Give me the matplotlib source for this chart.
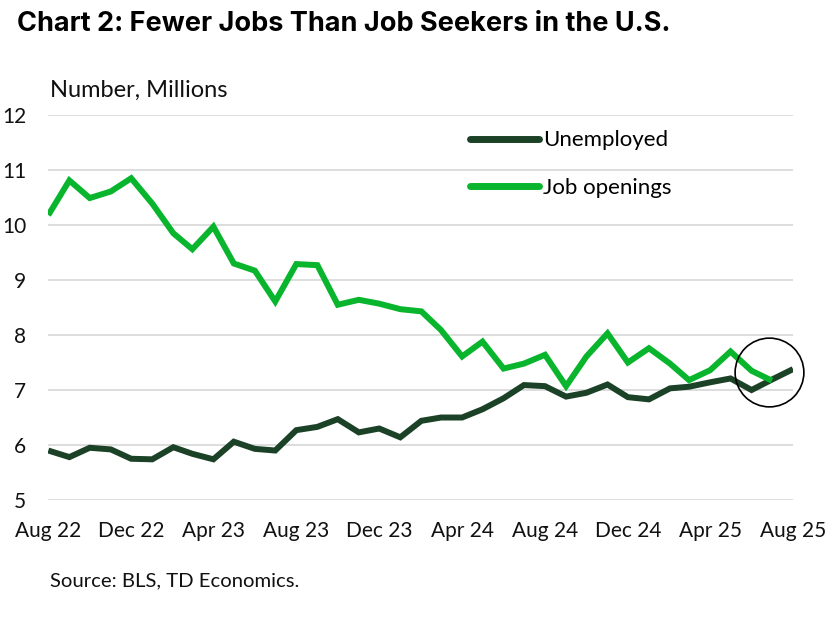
import matplotlib.pyplot as plt
import matplotlib.dates as mdates
import pandas as pd

plt.rcParams['font.family'] = ['Lato', 'DejaVu Sans']

# data (millions), monthly Aug 2022 - Aug 2025
months = pd.date_range('2022-08-01', periods=37, freq='MS')
unemployed = [5.90, 5.78, 5.95, 5.92, 5.75, 5.74, 5.96, 5.84, 5.74, 6.06,
              5.93, 5.90, 6.27, 6.33, 6.47, 6.23, 6.30, 6.14, 6.44, 6.50,
              6.50, 6.65, 6.85, 7.09, 7.07, 6.88, 6.95, 7.10, 6.87, 6.83,
              7.03, 7.06, 7.14, 7.21, 7.00, 7.19, 7.38]
job_openings = [10.18, 10.81, 10.49, 10.61, 10.85, 10.39, 9.85, 9.56, 9.97, 9.30,
                9.17, 8.61, 9.29, 9.27, 8.55, 8.64, 8.57, 8.47, 8.43, 8.09,
                7.61, 7.88, 7.39, 7.48, 7.64, 7.07, 7.61, 8.03, 7.50, 7.76,
                7.48, 7.18, 7.36, 7.70, 7.35, 7.17]
yticks = [5, 6, 7, 8, 9, 10, 11, 12]

colors = {
    'dark': '#1b4226',
    'green': '#08b52d',
    'grid': '#dadada',
    'text': '#111111',
}

fig = plt.figure(figsize=(8.27, 6.17), dpi=100)
ax = fig.add_axes([0.0584, 0.1896, 0.9005, 0.624])

ax.plot(months, unemployed, color=colors['dark'], lw=4.3, label='Unemployed',
        solid_capstyle='butt', solid_joinstyle='miter', zorder=3)
ax.plot(months[:len(job_openings)], job_openings, color=colors['green'], lw=4.3,
        label='Job openings', solid_capstyle='butt', solid_joinstyle='miter', zorder=3)

# circle around the latest crossover
cx = mdates.date2num(pd.Timestamp('2025-06-26'))
ax.plot([cx], [7.33], marker='o', ms=49.5, mfc='none', mec='black', mew=1.2,
        zorder=4, clip_on=False)

ax.set_xlim(months[0], months[-1])
ax.set_ylim(5, 12)
ax.set_yticks(yticks)
ax.set_xticks(months[::4])
ax.xaxis.set_major_formatter(mdates.DateFormatter('%b %y'))
ax.grid(axis='y', color=colors['grid'], lw=1.3)
ax.set_axisbelow(True)
for s in ax.spines.values():
    s.set_visible(False)
ax.tick_params(axis='y', length=0, pad=16, labelsize=15, labelcolor=colors['text'])
ax.tick_params(axis='x', length=0, pad=15, labelsize=15, labelcolor=colors['text'])

leg = ax.legend(loc='upper left', bbox_to_anchor=(0.566, 0.96), frameon=False,
                fontsize=16, handlelength=3.1, handletextpad=0.2,
                labelspacing=1.25, borderaxespad=0, borderpad=0)
for line in leg.get_lines():
    line.set_linewidth(5)
    line.set_solid_capstyle('round')

fig.text(0.0206, 0.9498, 'Chart 2: Fewer Jobs Than Job Seekers in the U.S.',
         fontsize=19.5, fontweight='bold', color='black', va='baseline',
         family=['Inter', 'Lato', 'DejaVu Sans'])
fig.text(0.0605, 0.8428, 'Number, Millions', fontsize=17, color=colors['text'],
         va='baseline')
fig.text(0.0605, 0.0502, 'Source: BLS, TD Economics.', fontsize=14.6,
         color=colors['text'], va='baseline')

plt.savefig('out.png', dpi=100)
plt.close()
